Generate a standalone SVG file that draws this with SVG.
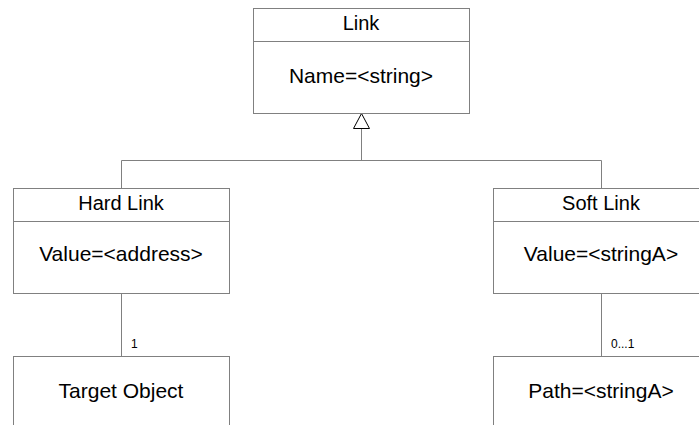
<svg xmlns="http://www.w3.org/2000/svg" width="699" height="425" viewBox="0 0 699 425">
  <style>
    .box { fill: #ffffff; stroke: #808080; stroke-width: 1; }
    .line { fill: none; stroke: #808080; stroke-width: 1; }
    .title { font-family: "Liberation Sans", Arial, sans-serif; font-size: 20px; fill: #000000; text-anchor: middle; }
    .attr { font-family: "Liberation Sans", Arial, sans-serif; font-size: 21px; fill: #000000; text-anchor: middle; }
    .mult { font-family: "Liberation Sans", Arial, sans-serif; font-size: 12px; fill: #000000; }
  </style>
  <rect width="699" height="425" fill="#ffffff"/>

  <!-- connectors: generalization tree and associations -->
  <g id="connectors">
    <path class="line" d="M361.5 128 V160.5 M121.5 160.5 H601.5 M121.5 160.5 V188 M601.5 160.5 V188"/>
    <polygon points="361.5,113.5 353.5,128.5 369.5,128.5" fill="#ffffff" stroke="#000000" stroke-width="1"/>
    <path class="line" d="M121.5 293 V356"/>
    <path class="line" d="M601.5 293 V356"/>
    <text class="mult" x="131" y="348">1</text>
    <text class="mult" x="611" y="348">0...1</text>
  </g>

  <g id="link">
    <rect class="box" x="253.5" y="8.5" width="216" height="105"/>
    <line class="line" x1="253.5" y1="41.5" x2="469.5" y2="41.5"/>
    <text class="title" x="361" y="30">Link</text>
    <text class="attr" x="361" y="83">Name=&lt;string&gt;</text>
  </g>

  <g id="hard-link">
    <rect class="box" x="13.5" y="188.5" width="216" height="105"/>
    <line class="line" x1="13.5" y1="221.5" x2="229.5" y2="221.5"/>
    <text class="title" x="121" y="210">Hard Link</text>
    <text class="attr" x="121" y="261">Value=&lt;address&gt;</text>
  </g>

  <g id="soft-link">
    <rect class="box" x="493.5" y="188.5" width="216" height="105"/>
    <line class="line" x1="493.5" y1="221.5" x2="709.5" y2="221.5"/>
    <text class="title" x="601" y="210">Soft Link</text>
    <text class="attr" x="601" y="261">Value=&lt;stringA&gt;</text>
  </g>

  <g id="target-object">
    <rect class="box" x="13.5" y="356.5" width="216" height="100"/>
    <text class="attr" x="121" y="398">Target Object</text>
  </g>

  <g id="path">
    <rect class="box" x="493.5" y="356.5" width="216" height="100"/>
    <text class="attr" x="601" y="398">Path=&lt;stringA&gt;</text>
  </g>
</svg>
